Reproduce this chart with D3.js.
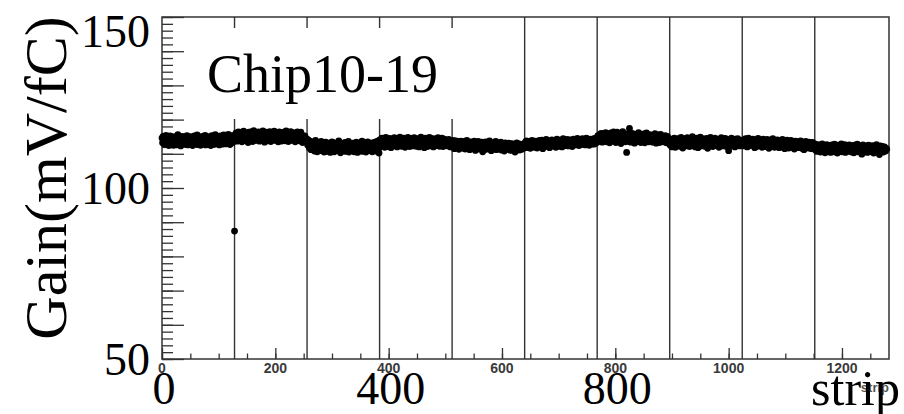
<!DOCTYPE html>
<html>
<head>
<meta charset="utf-8">
<script src="https://cdn.jsdelivr.net/npm/d3@7"></script>
<style>
  html, body { margin: 0; padding: 0; background: #fff; }
  svg { display: block; }
</style>
</head>
<body>
<div id="chart"></div>
<script>
// gain per strip, one array per chip (128 strips each)
const chip0 = [114.6,113.2,115.1,113.9,112.8,114.3,113.5,115.4,112.9,113.8,114.9,113.1,112.4,114.0,115.2,113.6,112.7,114.5,113.3,114.8,
112.5,113.9,115.0,114.1,113.0,112.6,114.7,113.4,115.6,113.8,112.9,114.2,113.5,112.3,114.9,113.7,115.1,112.8,113.6,114.4,
113.1,114.8,112.7,113.9,115.3,114.0,112.6,113.5,114.6,113.2,115.0,112.9,114.1,113.8,112.4,114.5,113.3,115.2,113.9,112.8,
114.3,113.6,115.5,112.7,114.0,113.1,114.8,113.4,112.5,114.6,113.9,115.1,113.2,112.9,114.4,113.7,115.4,112.6,113.8,114.9,
113.0,114.2,112.8,115.0,113.5,114.7,112.4,113.9,115.3,113.3,114.5,112.7,114.1,113.6,115.6,112.9,114.3,113.8,115.0,113.1,
114.6,112.6,113.9,115.2,114.0,113.4,112.8,114.8,113.7,115.5,113.2,114.4,112.9,115.1,113.6,114.2,113.0,115.7,114.5,113.8,
112.7,114.9,113.5,115.3,114.1,113.3,114.7,115.0];
const chip1 = [87.4,115.6,114.2,116.1,114.9,113.7,115.3,116.4,114.5,113.9,115.8,114.6,116.2,113.5,115.0,114.3,116.6,115.2,114.0,115.7,
113.8,116.0,114.8,115.4,113.3,116.3,114.7,115.9,114.1,115.1,116.5,114.4,113.6,115.5,116.8,114.9,115.3,113.9,116.1,114.6,
115.8,114.2,116.4,115.0,113.7,115.6,114.5,116.2,115.1,114.0,116.7,114.8,115.4,113.4,115.9,116.3,114.6,115.2,113.8,116.0,
114.3,115.7,116.5,114.9,113.6,115.5,114.1,116.2,115.0,114.7,116.6,113.9,115.3,114.4,116.1,115.8,114.2,113.5,115.6,116.4,
114.8,115.1,113.7,116.0,114.5,115.9,114.0,116.3,115.4,113.8,115.2,116.7,114.6,115.7,114.3,113.6,116.1,115.0,114.9,116.5,
113.9,115.5,114.4,116.2,115.3,114.1,115.8,113.5,116.0,114.7,115.1,116.4,114.2,115.6,113.8,115.9,114.6,116.3,114.0,115.4,
113.3,115.0,114.5,113.7,115.2,114.1,113.6,114.4];
const chip2 = [113.4,112.6,114.1,113.0,111.8,113.7,112.4,111.2,113.5,112.9,111.6,113.2,112.0,110.8,112.7,113.9,111.4,112.5,110.6,112.1,
113.3,111.7,112.8,110.9,112.3,113.6,111.1,112.6,111.9,113.0,110.5,112.4,111.5,113.4,112.2,110.7,111.8,112.9,111.3,113.1,
112.0,110.4,112.6,111.6,113.5,111.0,112.3,111.9,110.6,112.8,111.4,113.2,112.1,110.9,111.7,112.5,113.8,111.2,112.0,110.3,
112.7,111.5,113.0,111.8,110.8,112.4,111.1,113.3,112.2,110.7,111.9,112.6,111.3,113.6,110.5,112.0,111.6,112.9,110.9,112.3,
111.4,113.1,112.5,110.6,111.8,112.7,111.0,113.4,112.1,110.4,111.7,112.8,111.2,113.0,110.8,112.4,111.5,113.7,112.0,110.7,
111.9,112.6,111.3,113.2,110.5,112.2,111.6,113.5,112.9,111.0,112.3,110.9,111.8,113.1,112.4,110.6,111.4,112.7,113.3,111.1,
112.5,110.8,112.0,113.6,111.7,112.9,111.3,110.2];
const chip3 = [114.1,112.7,113.8,112.2,114.6,113.0,112.5,114.3,113.6,111.9,113.2,114.8,112.8,113.5,112.1,114.0,113.3,112.6,114.5,113.1,
111.8,113.7,114.2,112.4,113.9,112.9,114.7,113.4,112.3,114.1,113.0,112.0,113.6,114.4,112.7,113.2,114.9,112.5,113.8,112.2,
114.0,113.5,112.8,114.6,113.1,111.9,113.7,114.3,112.6,113.3,114.8,112.4,113.9,112.1,114.2,113.0,112.7,114.5,113.6,112.3,
113.4,114.7,112.9,113.1,114.0,112.2,113.8,114.4,112.6,113.5,112.0,114.1,113.2,114.9,112.8,113.7,112.4,114.3,113.0,111.8,
113.6,114.6,112.5,113.9,112.1,114.2,113.3,112.7,114.8,113.1,112.3,113.8,114.5,112.9,113.4,112.0,114.0,113.6,112.6,114.4,
113.2,112.4,113.9,114.7,112.8,113.5,112.2,114.1,113.0,112.7,114.6,113.7,112.1,113.3,114.3,112.5,113.8,112.9,114.0,113.4,
112.3,113.6,114.2,112.8,113.1,112.0,113.7,112.6];
const chip4 = [113.4,112.0,113.9,112.7,111.5,113.2,112.4,113.8,111.9,112.9,113.5,112.2,111.3,113.1,112.6,113.7,111.8,112.5,113.3,112.1,
111.6,113.6,112.8,111.4,113.0,112.3,113.9,111.7,112.6,113.4,112.0,111.2,112.9,113.5,111.9,112.4,113.2,111.5,112.8,113.7,
112.2,111.0,112.7,113.3,111.8,112.5,113.6,112.1,111.4,113.0,112.6,111.9,113.4,112.3,110.6,112.8,113.1,111.7,112.4,113.5,
111.3,112.9,112.0,113.2,111.6,112.7,113.8,111.9,112.2,110.9,112.5,113.0,111.5,112.8,113.3,111.8,112.1,113.6,111.2,112.6,
112.9,111.4,113.1,112.3,111.7,112.7,113.4,111.1,112.5,113.0,111.9,112.2,110.8,112.6,113.2,111.6,112.0,112.9,111.3,112.4,
113.1,111.8,112.7,111.0,112.3,113.0,111.5,112.1,112.8,111.2,112.5,110.5,111.9,112.6,113.2,111.4,112.2,111.7,112.9,111.1,
112.4,111.8,112.6,111.3,112.0,112.8,111.6,112.3];
const chip5 = [112.4,113.3,112.0,113.8,112.7,111.8,113.1,112.5,113.6,112.2,111.6,113.0,112.8,113.9,112.1,112.6,113.4,111.9,112.9,113.7,
112.3,113.2,111.7,112.8,113.5,112.4,113.9,112.0,113.1,112.6,114.0,112.9,111.5,113.3,112.7,113.8,112.2,113.0,114.2,112.5,
113.6,112.1,113.4,112.8,111.8,113.7,113.0,112.4,114.1,112.9,113.2,112.3,113.9,112.6,113.5,111.9,113.1,114.3,112.7,113.4,
112.2,113.8,112.9,114.0,112.5,113.3,112.0,113.6,114.4,112.8,113.1,112.4,113.9,113.2,112.6,114.2,113.0,112.3,113.7,112.9,
114.1,113.4,112.7,113.8,112.1,113.5,114.3,112.8,113.2,114.0,112.6,113.6,113.1,114.5,112.9,113.3,112.4,113.9,114.2,113.0,
112.7,113.7,114.4,112.9,113.5,114.1,113.2,112.6,113.8,114.6,113.3,112.8,114.0,113.6,112.5,113.9,114.3,113.1,113.7,112.9,
114.2,113.4,112.8,114.5,113.6,113.0,114.1,113.3];
const chip6 = [114.3,115.2,113.6,114.8,115.6,113.9,114.5,116.0,114.1,113.4,115.3,114.7,115.9,113.8,114.4,116.2,114.9,113.5,115.1,114.0,
115.7,114.6,113.2,115.4,116.1,114.2,113.7,115.0,114.8,116.4,113.9,114.5,115.5,113.3,114.9,116.3,114.1,115.2,113.6,114.7,
115.8,114.3,113.0,115.6,114.4,116.5,113.8,114.9,115.3,114.0,113.5,115.1,110.4,114.6,115.9,113.7,114.2,117.4,114.8,113.4,
115.0,114.5,116.0,113.9,114.7,115.4,113.1,114.3,115.7,114.0,113.6,115.2,114.9,116.2,113.8,114.4,115.5,113.3,114.8,115.1,
114.1,113.7,115.8,114.5,113.2,115.0,114.6,116.1,113.9,114.3,115.3,113.5,114.8,115.6,114.2,113.8,115.1,114.0,113.4,115.4,
114.7,113.6,115.9,114.4,113.1,115.2,114.1,113.9,115.5,114.6,113.3,114.9,115.7,113.7,114.2,115.0,113.5,114.8,114.3,113.8,
115.3,114.0,113.2,114.6,115.1,113.9,114.4,113.0];
const chip7 = [113.8,112.5,114.3,113.1,112.0,114.0,113.5,112.7,114.6,113.3,111.9,113.9,112.8,114.2,113.0,112.4,114.5,113.6,112.2,113.7,
114.8,112.9,113.4,111.7,114.1,113.2,112.6,114.4,113.9,112.3,113.5,114.7,112.8,113.0,114.3,112.1,113.6,114.0,112.5,113.8,
115.0,113.1,112.4,114.2,113.7,112.0,113.4,114.6,112.9,113.3,111.8,114.1,113.6,112.7,114.9,113.2,112.3,113.9,114.4,112.6,
113.5,114.0,112.2,113.8,112.9,114.5,113.1,111.6,113.7,114.3,112.8,113.4,114.8,112.5,113.0,113.9,112.1,114.2,113.6,112.7,
114.6,113.3,112.4,113.8,114.1,112.9,113.5,111.9,114.0,113.2,112.6,114.7,113.4,112.3,113.9,114.4,112.8,113.1,114.5,112.2,
113.7,114.0,112.5,113.3,110.9,113.6,114.2,112.7,113.0,114.6,112.4,113.8,114.1,112.9,113.5,112.0,114.3,113.2,112.6,113.9,
114.4,112.8,113.4,114.0,112.3,113.7,113.1,112.5];
const chip8 = [113.6,112.8,114.1,113.2,112.3,113.9,114.4,112.6,113.4,112.0,113.8,114.6,112.9,113.1,112.4,114.2,113.5,112.7,113.9,114.3,
112.5,113.2,111.8,113.7,114.0,112.9,113.3,112.2,114.5,113.0,112.6,113.8,114.1,112.4,113.5,111.9,113.1,114.3,112.8,113.6,
112.1,113.9,112.7,113.3,114.2,112.5,113.0,111.6,113.4,114.0,112.8,113.7,112.3,113.1,114.4,112.6,113.5,111.9,112.9,113.8,
112.2,113.6,114.1,112.7,113.2,111.8,113.4,112.5,113.9,112.0,113.3,114.2,112.6,112.9,113.7,111.5,112.8,113.5,112.3,114.0,
112.9,113.1,111.7,112.6,113.6,112.2,113.9,112.7,111.9,113.4,112.5,113.0,111.4,112.8,113.7,112.1,113.2,112.6,111.8,113.5,
112.4,113.1,112.0,113.8,112.7,111.6,113.3,112.5,112.9,111.2,113.0,112.4,113.6,111.9,112.7,113.2,112.1,111.7,113.4,112.6,
112.0,113.1,111.5,112.8,113.3,112.2,111.8,112.9];
const chip9 = [112.3,111.1,112.8,111.6,110.7,112.4,111.9,110.9,112.6,111.3,110.5,112.1,111.7,112.9,110.8,111.4,112.5,111.0,110.3,112.2,
111.8,112.7,110.6,111.5,112.0,110.9,112.4,111.2,110.4,111.9,112.6,111.3,110.7,112.1,111.6,112.8,110.5,111.8,112.3,111.0,
110.2,111.7,112.5,111.4,110.8,112.0,111.1,112.9,110.6,111.6,112.2,110.9,111.5,112.7,110.4,111.9,112.4,111.2,110.7,112.0,
111.3,112.6,110.9,111.8,112.3,110.5,111.6,112.1,111.0,110.3,112.5,111.7,110.8,112.2,111.4,112.8,110.6,111.9,111.1,112.4,
110.7,111.5,112.0,109.9,111.3,112.6,111.8,110.5,112.1,111.2,110.9,112.3,111.6,110.4,111.9,112.5,111.0,110.8,112.2,111.4,
110.6,111.7,112.4,111.1,110.2,111.8,112.0,110.9,111.5,112.7,111.3,110.6,112.1,111.6,109.8,111.9,112.3,111.0,110.7,112.2,
111.4,110.5,111.8,112.0,111.2,110.8,111.6,111.3];

const chips = [chip0, chip1, chip2, chip3, chip4, chip5, chip6, chip7, chip8, chip9];
const stripsPerChip = 128;
const chipEdges = [128, 256, 384, 512, 640, 768, 896, 1024, 1152];
const xSmallTicks = [0, 200, 400, 600, 800, 1000, 1200];
const xBigTicks = [0, 400, 800];
const yBigTicks = [50, 100, 150];
const xDomain = [0, 1283];
const yDomain = [50, 150];
const title = "Chip10-19";
const yTitle = "Gain(mV/fC)";
const xTitle = "strip";

const W = 904, H = 414;
const frame = { left: 162, right: 889, top: 17, bottom: 359 };
const serif = "'Liberation Serif', 'Times New Roman', serif";
const sans = "'Liberation Sans', Arial, sans-serif";

const points = [];
chips.forEach((vals, c) => vals.forEach((v, i) => points.push({ strip: c * stripsPerChip + i, gain: v })));

const svg = d3.select("#chart").append("svg")
    .attr("width", W)
    .attr("height", H);

svg.append("rect").attr("width", W).attr("height", H).attr("fill", "#fff");

const x = d3.scaleLinear().domain(xDomain).range([frame.left, frame.right]);
const y = d3.scaleLinear().domain(yDomain).range([frame.bottom, frame.top]);

// ticks, ROOT style (inside the frame)
function styleTicks(g) {
    g.select(".domain").remove();
    g.selectAll("line").attr("stroke", "#333").attr("stroke-width", 1.3);
}
svg.append("g")
    .attr("transform", `translate(0,${frame.bottom})`)
    .call(d3.axisTop(x).tickValues(d3.range(0, 1281, 50)).tickSize(5.5).tickFormat(""))
    .call(styleTicks);
svg.append("g")
    .attr("transform", `translate(0,${frame.bottom})`)
    .call(d3.axisTop(x).tickValues(xSmallTicks).tickSize(11).tickFormat(""))
    .call(styleTicks);
svg.append("g")
    .attr("transform", `translate(${frame.left},0)`)
    .call(d3.axisRight(y).tickValues(d3.range(50, 151, 2)).tickSize(11).tickFormat(""))
    .call(styleTicks);
svg.append("g")
    .attr("transform", `translate(${frame.left},0)`)
    .call(d3.axisRight(y).tickValues(d3.range(50, 151, 10)).tickSize(22).tickFormat(""))
    .call(styleTicks);

// chip boundaries
svg.append("g").selectAll("line")
    .data(chipEdges)
    .enter().append("line")
    .attr("x1", d => x(d)).attr("x2", d => x(d))
    .attr("y1", frame.top).attr("y2", frame.bottom)
    .attr("stroke", "#333").attr("stroke-width", 1.4);

// frame
svg.append("rect")
    .attr("x", frame.left).attr("y", frame.top)
    .attr("width", frame.right - frame.left)
    .attr("height", frame.bottom - frame.top)
    .attr("fill", "none").attr("stroke", "#333").attr("stroke-width", 1.5);

// white box behind the chip label
svg.append("rect")
    .attr("x", 188).attr("y", 28)
    .attr("width", 269).attr("height", 91)
    .attr("fill", "#fff");

// data points
svg.append("g").selectAll("circle")
    .data(points)
    .enter().append("circle")
    .attr("cx", d => x(d.strip))
    .attr("cy", d => y(d.gain))
    .attr("r", 3.4)
    .attr("fill", "#000");

// small axis labels
svg.append("g").selectAll("text")
    .data(xSmallTicks)
    .enter().append("text")
    .attr("x", d => x(d))
    .attr("y", 373)
    .attr("text-anchor", "middle")
    .attr("font-family", sans).attr("font-weight", "bold")
    .attr("font-size", 14).attr("fill", "#3a3a3a")
    .text(d => d);
svg.append("text")
    .attr("x", frame.right).attr("y", 392)
    .attr("text-anchor", "end")
    .attr("font-family", sans).attr("font-weight", "bold")
    .attr("font-size", 13).attr("fill", "#555")
    .text(xTitle);

// big overlay labels
svg.append("g").selectAll("text")
    .data(xBigTicks)
    .enter().append("text")
    .attr("x", d => x(d) + 2)
    .attr("y", 404)
    .attr("text-anchor", "middle")
    .attr("font-family", serif).attr("font-size", 46).attr("fill", "#000")
    .text(d => d);
svg.append("g").selectAll("text")
    .data(yBigTicks)
    .enter().append("text")
    .attr("x", 150)
    .attr("y", d => Math.max(y(d) + 16, 47))
    .attr("text-anchor", "end")
    .attr("font-family", serif).attr("font-size", 46).attr("fill", "#000")
    .text(d => d);
svg.append("text")
    .attr("x", 900).attr("y", 405)
    .attr("text-anchor", "end")
    .attr("font-family", serif).attr("font-size", 50).attr("fill", "#000")
    .text(xTitle);
svg.append("text")
    .attr("transform", "translate(66,178) rotate(-90)")
    .attr("text-anchor", "middle")
    .attr("font-family", serif).attr("font-size", 60).attr("fill", "#000")
    .text(yTitle);
svg.append("text")
    .attr("x", 207).attr("y", 92)
    .attr("font-family", serif).attr("font-size", 54).attr("fill", "#000")
    .text(title);
</script>
</body>
</html>
